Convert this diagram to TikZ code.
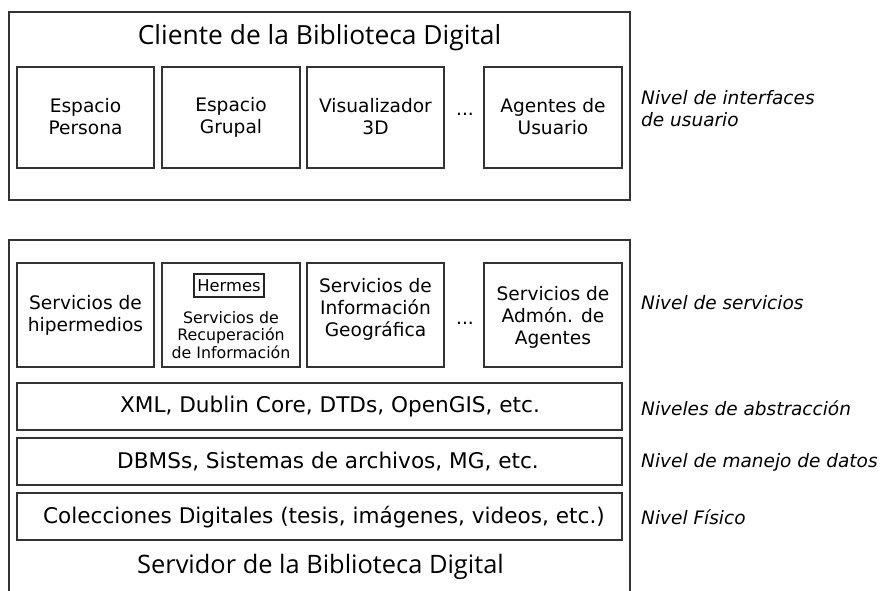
\documentclass[tikz,border=0pt]{standalone}
\usepackage{fontspec}
\setmainfont{DejaVu Sans}
\newfontfamily\titlefont{Open Sans}
\begin{document}
\begin{tikzpicture}[x=1pt,y=-1pt,
  outerline/.style={draw=black!80,line width=1.6pt},
  boxline/.style={draw=black!80,line width=1.3pt},
  txt/.style={font=\fontsize{18.6}{22}\selectfont,align=center,inner sep=0pt},
  widetxt/.style={font=\fontsize{21.6}{26}\selectfont,align=center,inner sep=0pt},
  smalltxt/.style={font=\fontsize{15.8}{17.5}\selectfont,align=center,inner sep=0pt},
  titletxt/.style={font=\titlefont\fontsize{26.4}{31}\selectfont,inner sep=0pt},
  lvl/.style={font=\itshape\fontsize{18.5}{22}\selectfont,align=left,anchor=west,inner sep=0pt},
  dots/.style={font=\fontsize{18.6}{22}\selectfont,inner sep=0pt,anchor=base}]
\useasboundingbox (0,0) rectangle (886,590);
% client
\draw[outerline] (9,12) rectangle (630,200);
\node[titletxt] (ctitle) at (319.5,38) {Cliente de la Biblioteca Digital};
\draw[boxline] (17,67) rectangle (154,168);
\draw[boxline] (162,67) rectangle (300,168);
\draw[boxline] (307,67) rectangle (444,168);
\draw[boxline] (484,67) rectangle (622,168);
\node[txt] (c1) at (85.5,117) {Espacio\\Persona};
\node[txt] (c2) at (231,117) {Espacio\\Grupal};
\node[txt] (c3) at (375.5,117) {Visualizador\\3D};
\node[dots] (cd) at (465,115) {...};
\node[txt] (c4) at (553,117) {Agentes de\\Usuario};
\node[lvl] (l1) at (641,109) {Nivel de interfaces\\de usuario};
% server
\draw[outerline] (9,600) -- (9,240) -- (630,240) -- (630,600);
\draw[boxline] (17,263) rectangle (154,367);
\draw[boxline] (162,263) rectangle (300,367);
\draw[boxline] (307,263) rectangle (444,367);
\draw[boxline] (484,263) rectangle (622,367);
\node[txt] (s1) at (85.5,315) {Servicios de\\hipermedios};
\node[font=\fontsize{16.3}{18}\selectfont,draw=black!85,line width=1.1pt,inner sep=0pt,minimum width=70pt,minimum height=23pt] (herm) at (229,285.5) {Hermes};
\node[smalltxt] (s2) at (231,335) {Servicios de\\Recuperación\\de Información};
\node[txt] (s3) at (375.5,309) {Servicios de\\Información\\Geográfica};
\node[dots] (sd) at (465,324) {...};
\node[txt] (s4) at (553,317) {Servicios de\\Admón. de\\Agentes};
\node[lvl] (l2) at (641,303) {Nivel de servicios};
\draw[boxline] (17,383) rectangle (622,430);
\draw[boxline] (17,438) rectangle (622,485);
\draw[boxline] (17,493) rectangle (622,540);
\node[widetxt] (w1) at (330,407) {XML, Dublin Core, DTDs, OpenGIS, etc.};
\node[widetxt] (w2) at (328,462) {DBMSs, Sistemas de archivos, MG, etc.};
\node[widetxt] (w3) at (324,517) {Colecciones Digitales (tesis, imágenes, videos, etc.)};
\node[lvl] (l3) at (641,408) {Niveles de abstracción};
\node[lvl] (l4) at (641,462) {Nivel de manejo de datos};
\node[lvl] (l5) at (641,517) {Nivel Físico};
\node[titletxt,font=\titlefont\fontsize{25.4}{30}\selectfont] (stitle) at (320.5,567) {Servidor de la Biblioteca Digital};
\end{tikzpicture}
\end{document}
